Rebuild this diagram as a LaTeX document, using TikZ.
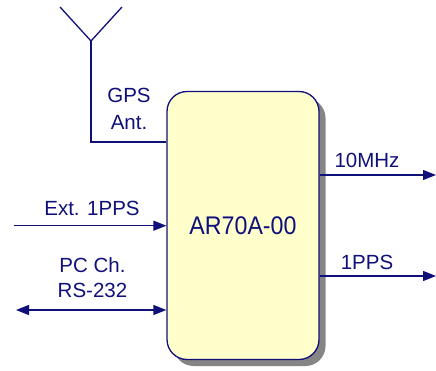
\documentclass[tikz,border=0pt]{standalone}
\usepackage{fontspec}
\setmainfont{Liberation Sans}
\newfontfamily\condfont[FakeStretch=0.91]{Liberation Sans}
\usetikzlibrary{arrows.meta,shadows}
\definecolor{navy}{HTML}{10107A}
\definecolor{boxfill}{HTML}{FFFFCC}
\definecolor{shadowgray}{HTML}{858585}
\begin{document}
\begin{tikzpicture}[x=1pt,y=-1pt,
  wire/.style={draw=navy,line width=1.3pt},
  arr/.style={wire,-{Triangle[length=13pt,width=10pt]}},
  darr/.style={wire,{Triangle[length=13pt,width=10pt]}-{Triangle[length=13pt,width=10pt]}},
  lbl/.style={text=navy,font=\fontsize{20.5}{25}\selectfont,align=center,inner sep=0pt},
  mainbox/.style={draw=navy,line width=1.3pt,fill=boxfill,rounded corners=20pt,
     minimum width=152pt,minimum height=268pt,inner sep=0pt,
     drop shadow={shadow xshift=6.5pt,shadow yshift=-6.5pt,fill=shadowgray,opacity=1},
     text=navy,font=\condfont\fontsize{25.5}{30}\selectfont}]
\useasboundingbox (0,0) rectangle (436,371);
\node[mainbox] (box) at (243,225.5) {AR70A-00};
% antenna
\coordinate (apex) at (91,41);
\coordinate (tipL) at (60,7);
\coordinate (tipR) at (122,7);
\coordinate (corner) at (91,142);
\draw[wire] (tipL) -- (apex) -- (tipR);
\draw[wire] (apex) -- (corner) -- (corner -| box.west);
\node[lbl] (gps) at (129,109) {GPS\\[2pt]Ant.};
% inputs
\coordinate (extL) at (14,225.7);
\draw[arr] (extL) -- (extL -| box.west);
\node[lbl] (ext) at (92,208) {Ext. 1PPS};
\coordinate (pcL) at (16,310);
\draw[darr] (pcL) -- (pcL -| box.west);
\node[lbl] (pc) at (92.5,277.5) {PC Ch.\\RS-232};
% outputs
\coordinate (o1) at (436,175);
\draw[arr] (o1 -| box.east) -- (o1);
\node[lbl] (tenm) at (367,160.3) {10MHz};
\coordinate (o2) at (436,276);
\draw[arr] (o2 -| box.east) -- (o2);
\node[lbl] (pps) at (367,262) {1PPS};
\end{tikzpicture}
\end{document}
